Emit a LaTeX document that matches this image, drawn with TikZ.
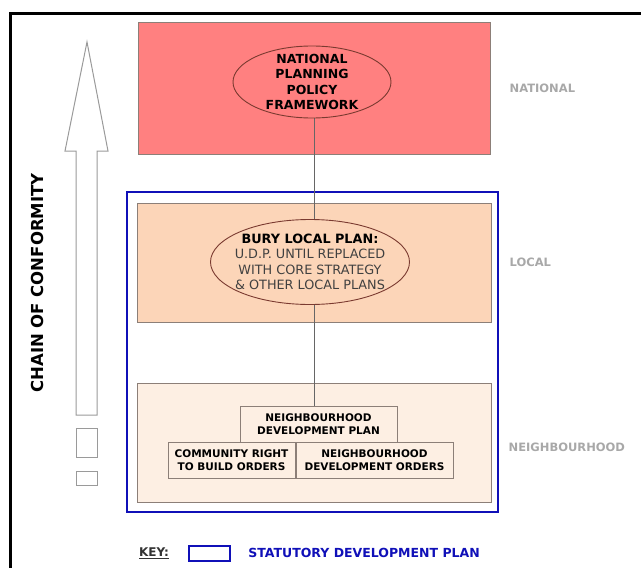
\documentclass[tikz,border=0pt]{standalone}
\usepackage{fontspec}
\setmainfont{DejaVu Sans}
\usetikzlibrary{positioning,shapes.geometric}

\definecolor{natfill}{HTML}{FF8080}
\definecolor{localfill}{HTML}{FCD5B8}
\definecolor{neighfill}{HTML}{FDEFE3}
\definecolor{boxedge}{HTML}{8C7F78}
\definecolor{ovaledge}{HTML}{7A3A30}
\definecolor{sdpblue}{HTML}{1010B8}
\definecolor{tiergray}{HTML}{A8A8A8}
\definecolor{arrowgray}{HTML}{9A9A9A}
\definecolor{plangray}{HTML}{404040}

\tikzset{
  tierbox/.style={draw=boxedge, line width=1pt, minimum width=354pt, inner sep=0pt},
  planoval/.style={ellipse, draw=ovaledge, line width=0.9pt, inner sep=0pt},
  ovaltext/.style={align=center, inner sep=0pt},
  orderbox/.style={draw=boxedge, fill=neighfill, line width=1pt, inner sep=0pt,
    align=center, minimum height=36.5pt, font=\bfseries\fontsize{10.5}{13}\selectfont},
  tierlabel/.style={text=tiergray, inner sep=0pt, font=\bfseries\fontsize{11.5}{13}\selectfont},
  rung/.style={draw=arrowgray, line width=1pt, minimum width=21pt, inner sep=0pt},
  link/.style={draw=black!60, line width=0.9pt},
}

\begin{document}
\begin{tikzpicture}[x=1pt,y=-1pt]
  \useasboundingbox (0,0) rectangle (641,568);
  % outer frame
  \draw [line width=3pt] (10,580) -- (10,13) -- (650,13);

  % the three levels
  \node [tierbox, fill=natfill, minimum width=352pt, minimum height=132pt] (natbox) at (314,88) {};
  \node [draw=sdpblue, line width=2.5pt, minimum width=371pt, minimum height=320pt, inner sep=0pt] (sdp) at (312.5,352) {};
  \node [tierbox, fill=localfill, minimum height=119pt] (localbox) at (314,262.5) {};
  \node [tierbox, fill=neighfill, minimum height=119pt] (neighbox) at (314,442.5) {};

  \node [tierlabel, right=19pt of natbox] (national) {NATIONAL};
  \node [tierlabel, right=18pt of localbox] (local) {LOCAL};
  \node [tierlabel, right=17pt of neighbox, yshift=-4.5pt] (neighbourhood) {NEIGHBOURHOOD};

  % neighbourhood plans
  \node [orderbox, minimum width=157pt, minimum height=36pt] (ndp) at (318.5,424) {NEIGHBOURHOOD\\DEVELOPMENT PLAN};
  \node [orderbox, minimum width=127pt] (crbo) at (231.5,460.5) {COMMUNITY RIGHT\\TO BUILD ORDERS};
  \node [orderbox, minimum width=157pt, right=0pt of crbo] (ndo) {NEIGHBOURHOOD\\DEVELOPMENT ORDERS};

  \draw [link] (natbox.center) -- (natbox.center |- ndp.north);

  % plans in the ovals
  \node [planoval, fill=natfill, minimum width=158pt, minimum height=72pt] (nppf) at (312,82) {};
  \node [ovaltext, font=\bfseries\fontsize{12.5}{15.3}\selectfont] (nppftext) at (nppf.center) {NATIONAL\\PLANNING\\POLICY\\FRAMEWORK};
  \node [planoval, fill=localfill, minimum width=199pt, minimum height=85pt] (localplan) at (310,262) {};
  \node [ovaltext, text=plangray, font=\fontsize{12.8}{15.5}\selectfont] (localtext) at (localplan.center)
    {\textcolor{black}{\bfseries BURY LOCAL PLAN:}\\U.D.P. UNTIL REPLACED\\WITH CORE STRATEGY\\\& OTHER LOCAL PLANS};

  % chain of conformity
  \draw [draw=arrowgray, fill=white, line width=1pt]
    (76,415) -- (76,151) -- (65,151) -- (87,42) -- (108,151) -- (97,151) -- (97,415) -- cycle;
  \node [rung, minimum height=29pt] (rungA) at (86.5,442.5) {};
  \node [rung, minimum height=14pt] (rungB) at (86.5,478) {};
  \node [rotate=90, font=\bfseries\fontsize{16.5}{18}\selectfont] (chain) at (37,283) {CHAIN OF CONFORMITY};

  % key
  \node [inner sep=0pt, text=black!80, font=\bfseries\fontsize{12}{14}\selectfont] (key) at (154,553) {\underline{KEY:}};
  \node [draw=sdpblue, line width=2pt, minimum width=41pt, minimum height=15pt, inner sep=0pt, right=19pt of key] (keybox) {};
  \node [inner sep=0pt, text=sdpblue, font=\bfseries\fontsize{12.5}{14}\selectfont, right=17pt of keybox] (keytext) {STATUTORY DEVELOPMENT PLAN};
\end{tikzpicture}
\end{document}
